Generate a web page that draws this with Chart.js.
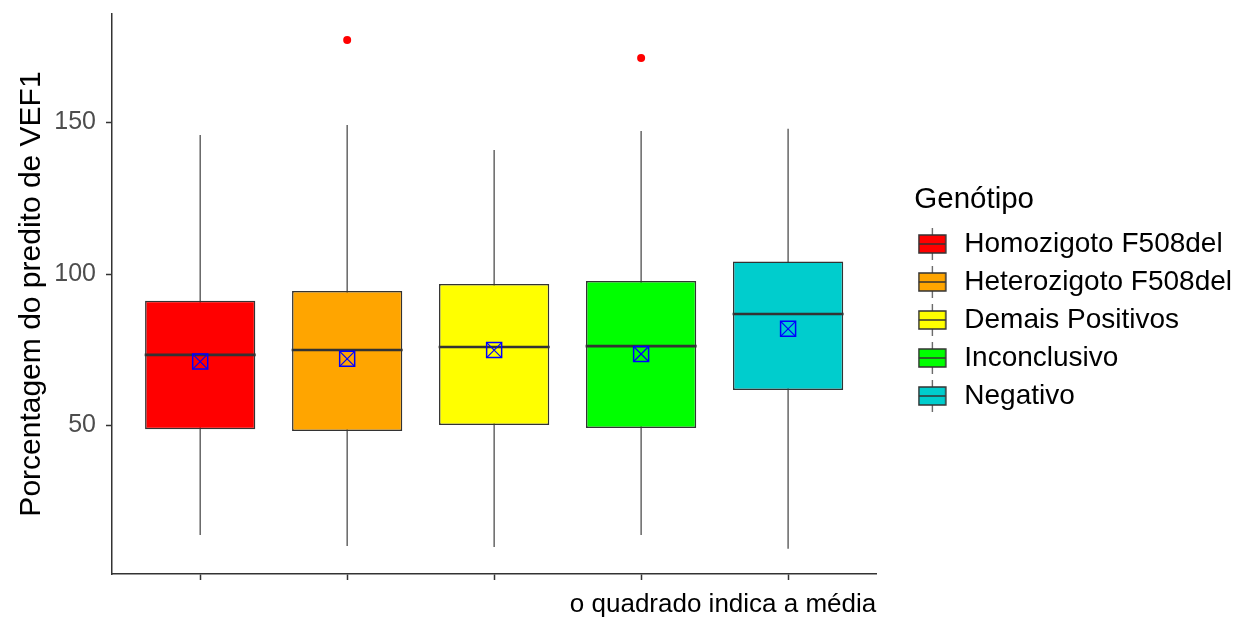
<!DOCTYPE html>
<html>
<head>
<meta charset="utf-8">
<title>Porcentagem do predito de VEF1 por genótipo</title>
<script src="https://cdn.jsdelivr.net/npm/chart.js@4.4.1/dist/chart.umd.min.js"></script>
<style>
  html, body { margin: 0; padding: 0; background: #fff; }
  #wrap { width: 1235px; height: 620px; }
</style>
</head>
<body>
<div id="wrap"><canvas id="myChart" width="1235" height="620"></canvas></div>
<script>
// values
const genotypes = ["Homozigoto F508del", "Heterozigoto F508del", "Demais Positivos", "Inconclusivo", "Negativo"];
const box_colors = ["#FF0000", "#FFA500", "#FFFF00", "#00FF00", "#00CDCD"];
const whisker_low = [13.9, 10.2, 9.9, 13.9, 9.3];
const q1 = [48.8, 48.2, 50.2, 49.2, 61.7];
const median = [73.3, 74.9, 75.9, 76.2, 86.8];
const q3 = [91.2, 94.4, 96.7, 97.7, 104.1];
const whisker_high = [145.9, 149.2, 140.9, 147.2, 147.9];
const mean = [71.1, 72.0, 74.9, 73.6, 81.9];
const outlier_group = [2, 4];
const outlier_value = [177.2, 171.3];
const y_ticks = [50, 100, 150];

Chart.defaults.font.family = '"Liberation Sans", Arial, sans-serif';
Chart.defaults.color = "#000";

// little boxplot glyph for the legend keys
function legendKey(color) {
  let c = document.createElement("canvas");
  c.width = 39;
  c.height = 32;
  let g = c.getContext("2d");
  g.strokeStyle = "#4D4D4D";
  g.lineWidth = 1.2;
  g.beginPath();
  g.moveTo(14.5, 0);
  g.lineTo(14.5, 32);
  g.stroke();
  g.fillStyle = color;
  g.fillRect(1, 7, 27, 18);
  g.strokeStyle = "#333";
  g.lineWidth = 1.5;
  g.strokeRect(1, 7, 27, 18);
  g.beginPath();
  g.moveTo(1, 16);
  g.lineTo(28, 16);
  g.stroke();
  return c;
}
const key_images = box_colors.map((c) => legendKey(c));

let boxes = genotypes.map((g, i) => ({ x: i + 1, y: [q1[i], q3[i]] }));
let whiskers = [];
genotypes.forEach((g, i) => {
  whiskers.push({ x: i + 1, y: whisker_low[i] });
  whiskers.push({ x: i + 1, y: whisker_high[i] });
  whiskers.push({ x: i + 1, y: null });
});
let medians = genotypes.map((g, i) => ({ x: i + 1, y: median[i] }));
let means = genotypes.map((g, i) => ({ x: i + 1, y: mean[i] }));
let outliers = outlier_group.map((grp, i) => ({ x: grp, y: outlier_value[i] }));

const ctx = document.getElementById("myChart").getContext("2d");
const myChart = new Chart(ctx, {
  type: "bar",
  data: {
    datasets: [
      {
        type: "scatter",
        data: whiskers,
        showLine: true,
        spanGaps: false,
        borderColor: "#4D4D4D",
        borderWidth: 1.3,
        pointRadius: 0,
        order: 4,
      },
      {
        type: "bar",
        data: boxes,
        backgroundColor: box_colors,
        borderColor: "#333",
        borderWidth: 1.5,
        borderSkipped: false,
        barPercentage: 0.75,
        categoryPercentage: 1,
        order: 3,
      },
      {
        type: "scatter",
        data: medians,
        pointStyle: "line",
        pointRadius: 55.5,
        pointBorderColor: "#333",
        pointBorderWidth: 2.6,
        order: 2,
      },
      {
        type: "scatter",
        data: means,
        pointStyle: "rect",
        pointRadius: 10.6,
        pointBorderColor: "#0000FF",
        pointBackgroundColor: "rgba(0,0,0,0)",
        pointBorderWidth: 1.5,
        order: 1,
      },
      {
        type: "scatter",
        data: means,
        pointStyle: "crossRot",
        pointRadius: 10.6,
        pointBorderColor: "#0000FF",
        pointBorderWidth: 1.2,
        order: 1,
      },
      {
        type: "scatter",
        data: outliers,
        pointRadius: 4,
        pointBackgroundColor: "#FF0000",
        pointBorderWidth: 0,
        order: 0,
      },
    ],
  },
  options: {
    responsive: false,
    devicePixelRatio: 1,
    animation: false,
    events: [],
    layout: {
      autoPadding: false,
      padding: { top: 14, right: -7, bottom: 0, left: 0 },
    },
    plugins: {
      tooltip: { enabled: false },
      legend: {
        position: "right",
        fullSize: false,
        maxWidth: 330,
        onClick: () => {},
        title: {
          display: true,
          text: "Genótipo",
          position: "start",
          color: "#000",
          font: { size: 29.5 },
          padding: { top: 17.25, bottom: -0.65 },
        },
        labels: {
          usePointStyle: true,
          pointStyleWidth: 26,
          padding: 10,
          color: "#000",
          font: { size: 28 },
          generateLabels: () =>
            genotypes.map((g, i) => ({
              text: g,
              pointStyle: key_images[i],
              fillStyle: box_colors[i],
              strokeStyle: "#333",
              lineWidth: 0,
              hidden: false,
              fontColor: "#000",
            })),
        },
      },
    },
    scales: {
      x: {
        type: "linear",
        min: 0.4,
        max: 5.6,
        offset: false,
        afterBuildTicks: (scale) => {
          scale.ticks = genotypes.map((g, i) => ({ value: i + 1 }));
        },
        afterFit: (scale) => {
          scale.height = 46;
        },
        ticks: { display: false },
        grid: {
          offset: false,
          drawOnChartArea: false,
          drawTicks: true,
          tickLength: 6,
          tickColor: "#333",
          tickWidth: 1.5,
        },
        border: { display: true, color: "#333", width: 1.5 },
        title: {
          display: true,
          text: "o quadrado indica a média",
          align: "end",
          color: "#000",
          font: { size: 26 },
          padding: { top: 0, bottom: 0 },
        },
      },
      y: {
        type: "linear",
        min: 1,
        max: 185.8,
        afterBuildTicks: (scale) => {
          scale.ticks = y_ticks.map((v) => ({ value: v }));
        },
        afterFit: (scale) => {
          scale.width = 112;
          scale.paddingTop = 0;
          scale.paddingBottom = 0;
        },
        ticks: { color: "#4D4D4D", font: { size: 25 }, padding: 10 },
        grid: {
          drawOnChartArea: false,
          drawTicks: true,
          tickLength: 6,
          tickColor: "#333",
          tickWidth: 1.5,
        },
        border: { display: true, color: "#333", width: 1.5 },
        title: {
          display: true,
          text: "Porcentagem do predito de VEF1",
          color: "#000",
          font: { size: 30 },
          padding: { top: 14, bottom: 0 },
        },
      },
      // empty axis, only keeps a gap between the plot and the legend
      gap: {
        type: "linear",
        position: "right",
        display: true,
        ticks: { display: false },
        grid: { display: false },
        border: { display: false },
        afterFit: (scale) => {
          scale.width = 38;
        },
      },
    },
  },
});
</script>
</body>
</html>
